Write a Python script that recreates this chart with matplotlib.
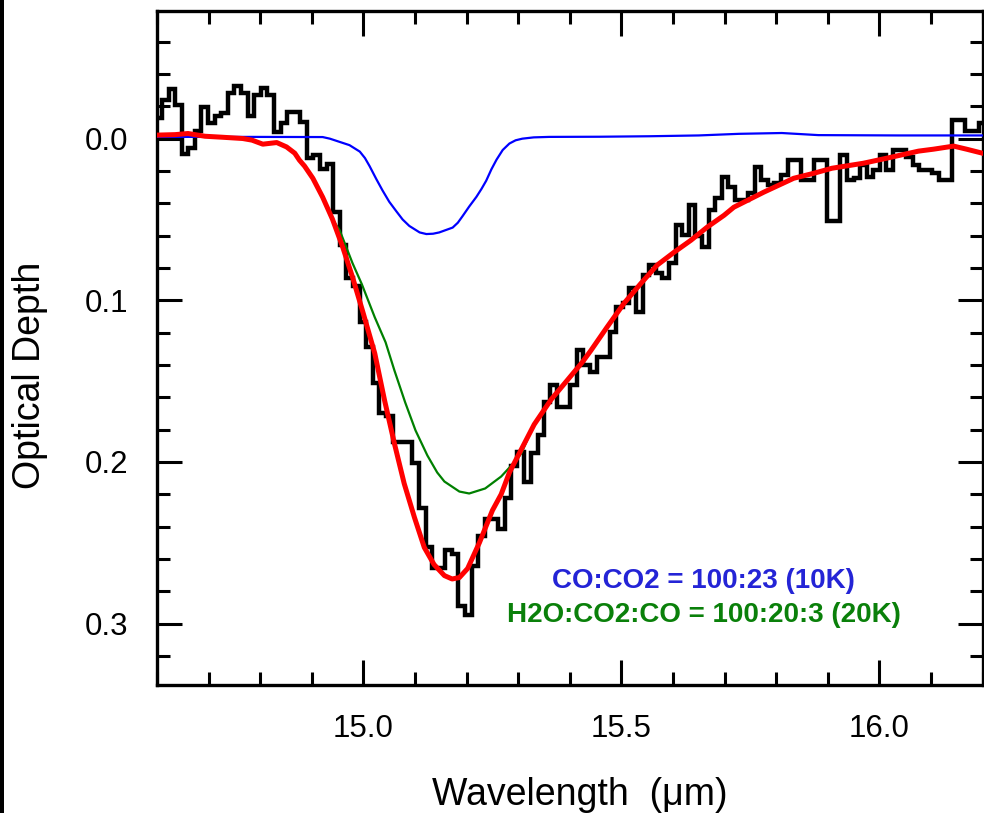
import matplotlib
matplotlib.use('Agg')
import matplotlib.pyplot as plt
from matplotlib.ticker import MultipleLocator, FormatStrFormatter
from matplotlib.patches import Rectangle

plt.rcParams['font.family'] = ['Liberation Sans', 'DejaVu Sans']

# observed spectrum (optical depth per wavelength bin, micron)
wavelength = [14.603, 14.616, 14.629, 14.641, 14.654, 14.667, 14.680, 14.692, 14.705, 14.718,
              14.731, 14.744, 14.756, 14.769, 14.782, 14.795, 14.807, 14.820, 14.833, 14.846,
              14.858, 14.871, 14.884, 14.897, 14.909, 14.922, 14.935, 14.948, 14.961, 14.973,
              14.986, 14.999, 15.012, 15.024, 15.037, 15.050, 15.063, 15.075, 15.088, 15.101,
              15.114, 15.127, 15.139, 15.152, 15.165, 15.178, 15.190, 15.203, 15.216, 15.229,
              15.241, 15.254, 15.267, 15.280, 15.292, 15.305, 15.318, 15.331, 15.344, 15.356,
              15.369, 15.382, 15.395, 15.407, 15.420, 15.433, 15.446, 15.458, 15.471, 15.484,
              15.497, 15.509, 15.522, 15.535, 15.548, 15.561, 15.573, 15.586, 15.599, 15.612,
              15.624, 15.637, 15.650, 15.663, 15.675, 15.688, 15.701, 15.714, 15.727, 15.739,
              15.752, 15.765, 15.778, 15.790, 15.803, 15.816, 15.829, 15.841, 15.854, 15.867,
              15.880, 15.892, 15.905, 15.918, 15.931, 15.944, 15.956, 15.969, 15.982, 15.995,
              16.007, 16.020, 16.033, 16.046, 16.058, 16.071, 16.084, 16.097, 16.109, 16.122,
              16.135, 16.148, 16.161, 16.173, 16.186, 16.199]
depth = [-0.0127, -0.0238, -0.0307, -0.0207, 0.0096, 0.0059, -0.0046, -0.0195, -0.0096, -0.0139,
         -0.0158, -0.0282, -0.0325, -0.0282, -0.0139, -0.0269, -0.0313, -0.0269, -0.0040, -0.0096,
         -0.0164, -0.0164, -0.0102, 0.0121, 0.0102, 0.0189, 0.0158, 0.0455, 0.0659, 0.0864,
         0.0913, 0.1136, 0.1291, 0.1514, 0.1700, 0.1718, 0.1879, 0.1879, 0.1879, 0.2009,
         0.2282, 0.2529, 0.2659, 0.2659, 0.2542, 0.2567, 0.2889, 0.2944, 0.2641, 0.2455,
         0.2350, 0.2350, 0.2412, 0.2226, 0.2022, 0.1941, 0.2127, 0.1947, 0.1836, 0.1632,
         0.1526, 0.1663, 0.1663, 0.1526, 0.1310, 0.1402, 0.1446, 0.1353, 0.1353, 0.1198,
         0.1043, 0.1019, 0.0926, 0.1074, 0.0845, 0.0783, 0.0833, 0.0864, 0.0771, 0.0536,
         0.0598, 0.0412, 0.0604, 0.0672, 0.0443, 0.0368, 0.0238, 0.0300, 0.0381, 0.0381,
         0.0337, 0.0176, 0.0257, 0.0288, 0.0276, 0.0226, 0.0133, 0.0133, 0.0257, 0.0257,
         0.0133, 0.0133, 0.0508, 0.0508, 0.0102, 0.0257, 0.0245, 0.0164, 0.0238, 0.0195,
         0.0102, 0.0195, 0.0071, 0.0071, 0.0115, 0.0164, 0.0195, 0.0195, 0.0214, 0.0257,
         0.0257, -0.0115, -0.0115, -0.0046, -0.0046, -0.0096]

# total fit (red)
fit_wl = [14.600, 14.635, 14.660, 14.693, 14.726, 14.766, 14.784, 14.805, 14.832, 14.851,
          14.867, 14.876, 14.886, 14.902, 14.921, 14.940, 14.960, 14.979, 14.998, 15.022,
          15.041, 15.060, 15.079, 15.099, 15.118, 15.137, 15.157, 15.172, 15.186, 15.202,
          15.225, 15.250, 15.267, 15.283, 15.298, 15.331, 15.364, 15.395, 15.424, 15.441,
          15.472, 15.505, 15.538, 15.569, 15.602, 15.635, 15.666, 15.699, 15.718, 15.776,
          15.834, 15.873, 15.908, 15.969, 16.014, 16.076, 16.105, 16.144, 16.169, 16.200]
fit_total = [-0.0022, -0.0025, -0.0032, -0.0015, -0.0009, -0.0001, 0.0009, 0.0034, 0.0024, 0.0051,
             0.0090, 0.0133, 0.0170, 0.0245, 0.0362, 0.0498, 0.0672, 0.0858, 0.1062, 0.1328,
             0.1619, 0.1885, 0.2133, 0.2344, 0.2529, 0.2635, 0.2703, 0.2724, 0.2715, 0.2659,
             0.2498, 0.2300, 0.2200, 0.2065, 0.1972, 0.1768, 0.1613, 0.1495, 0.1384, 0.1310,
             0.1167, 0.1019, 0.0895, 0.0783, 0.0703, 0.0628, 0.0548, 0.0474, 0.0424, 0.0331,
             0.0245, 0.0214, 0.0183, 0.0152, 0.0121, 0.0077, 0.0065, 0.0046, 0.0065, 0.0090]

# CO:CO2 = 100:23 (10K) component (blue)
co_wl = [14.600, 14.780, 14.921, 14.935, 14.954, 14.973, 14.993, 15.003, 15.012, 15.025,
         15.037, 15.050, 15.064, 15.076, 15.089, 15.099, 15.109, 15.122, 15.135, 15.147,
         15.160, 15.173, 15.183, 15.192, 15.205, 15.219, 15.229, 15.238, 15.248, 15.258,
         15.270, 15.283, 15.295, 15.308, 15.330, 15.360, 15.457, 15.554, 15.650, 15.728,
         15.811, 15.882, 16.037, 16.200]
co_co2 = [-0.0011, -0.0011, -0.0010, 0.0000, 0.0020, 0.0040, 0.0080, 0.0120, 0.0170, 0.0250,
          0.0320, 0.0390, 0.0450, 0.0500, 0.0540, 0.0560, 0.0580, 0.0590, 0.0588, 0.0580,
          0.0565, 0.0550, 0.0520, 0.0480, 0.0420, 0.0360, 0.0310, 0.0260, 0.0190, 0.0130,
          0.0070, 0.0030, 0.0010, 0.0000, -0.0008, -0.0011, -0.0012, -0.0015, -0.0020, -0.0030,
          -0.0035, -0.0022, -0.0020, -0.0020]

# H2O:CO2:CO = 100:20:3 (20K) component (green)
h2o_wl = [14.600, 14.635, 14.660, 14.693, 14.726, 14.766, 14.784, 14.805, 14.832, 14.851,
          14.867, 14.876, 14.886, 14.902, 14.921, 14.940, 14.954, 14.979, 14.997, 15.022,
          15.043, 15.060, 15.081, 15.101, 15.124, 15.143, 15.157, 15.186, 15.205, 15.236,
          15.267, 15.294, 15.306, 15.331, 15.364, 15.395, 15.424, 15.441, 15.472, 15.505,
          15.538, 15.569, 15.602, 15.635, 15.666, 15.699, 15.718, 15.776, 15.834, 15.873,
          15.908, 15.969, 16.014, 16.076, 16.105, 16.144, 16.169, 16.200]
h2o_mix = [-0.0022, -0.0025, -0.0032, -0.0015, -0.0009, -0.0001, 0.0009, 0.0034, 0.0024, 0.0051,
           0.0090, 0.0133, 0.0170, 0.0245, 0.0362, 0.0498, 0.0567, 0.0771, 0.0901, 0.1105,
           0.1260, 0.1433, 0.1632, 0.1805, 0.1960, 0.2065, 0.2121, 0.2183, 0.2195, 0.2164,
           0.2090, 0.1997, 0.1947, 0.1768, 0.1613, 0.1495, 0.1384, 0.1310, 0.1167, 0.1019,
           0.0895, 0.0783, 0.0703, 0.0628, 0.0548, 0.0474, 0.0424, 0.0331, 0.0245, 0.0214,
           0.0183, 0.0152, 0.0121, 0.0077, 0.0065, 0.0046, 0.0065, 0.0090]

fig = plt.figure(figsize=(9.84, 8.13), dpi=100)
ax = fig.add_axes([0.1596, 0.1574, 0.8389, 0.8291])

ax.step(wavelength, depth, where='mid', color='black', lw=3.2,
        solid_joinstyle='miter', zorder=2)
ax.plot(co_wl, co_co2, color='#0000ff', lw=1.6, zorder=3)
ax.plot(h2o_wl, h2o_mix, color='#008000', lw=1.6, zorder=4)
ax.plot(fit_wl, fit_total, color='#ff0000', lw=3.6, zorder=5)

ax.set_xlim(14.6, 16.2)
ax.set_ylim(0.338, -0.079)

ax.xaxis.set_major_locator(MultipleLocator(0.5))
ax.xaxis.set_minor_locator(MultipleLocator(0.1))
ax.yaxis.set_major_locator(MultipleLocator(0.1))
ax.yaxis.set_minor_locator(MultipleLocator(0.02))
ax.xaxis.set_major_formatter(FormatStrFormatter('%.1f'))
ax.yaxis.set_major_formatter(FormatStrFormatter('%.1f'))

ax.tick_params(which='both', direction='in', top=True, right=True, width=2.2,
               labelsize=22.5, pad=21, colors='black')
ax.tick_params(which='major', length=18)
ax.tick_params(which='minor', length=9.5)
for s in ax.spines.values():
    s.set_linewidth(2.4)

ax.text(15.66, 0.2777, 'CO:CO2 = 100:23 (10K)', color='#2424d6', fontsize=20,
        fontweight='bold', ha='center', va='baseline')
ax.text(15.66, 0.2992, 'H2O:CO2:CO = 100:20:3 (20K)', color='#0a800a', fontsize=20,
        fontweight='bold', ha='center', va='baseline')

fig.text(580 / 984, 1 - 795 / 813, 'Wavelength  (\u03bcm)', ha='center', va='center',
         fontsize=27)
fig.text(30 / 984, 1 - 375 / 813, 'Optical Depth', rotation=90, ha='center',
         va='center', fontsize=27)

fig.add_artist(Rectangle((0, 0), 4 / 984, 1, transform=fig.transFigure,
                         color='black', lw=0))

fig.savefig('out.png', dpi=100)
